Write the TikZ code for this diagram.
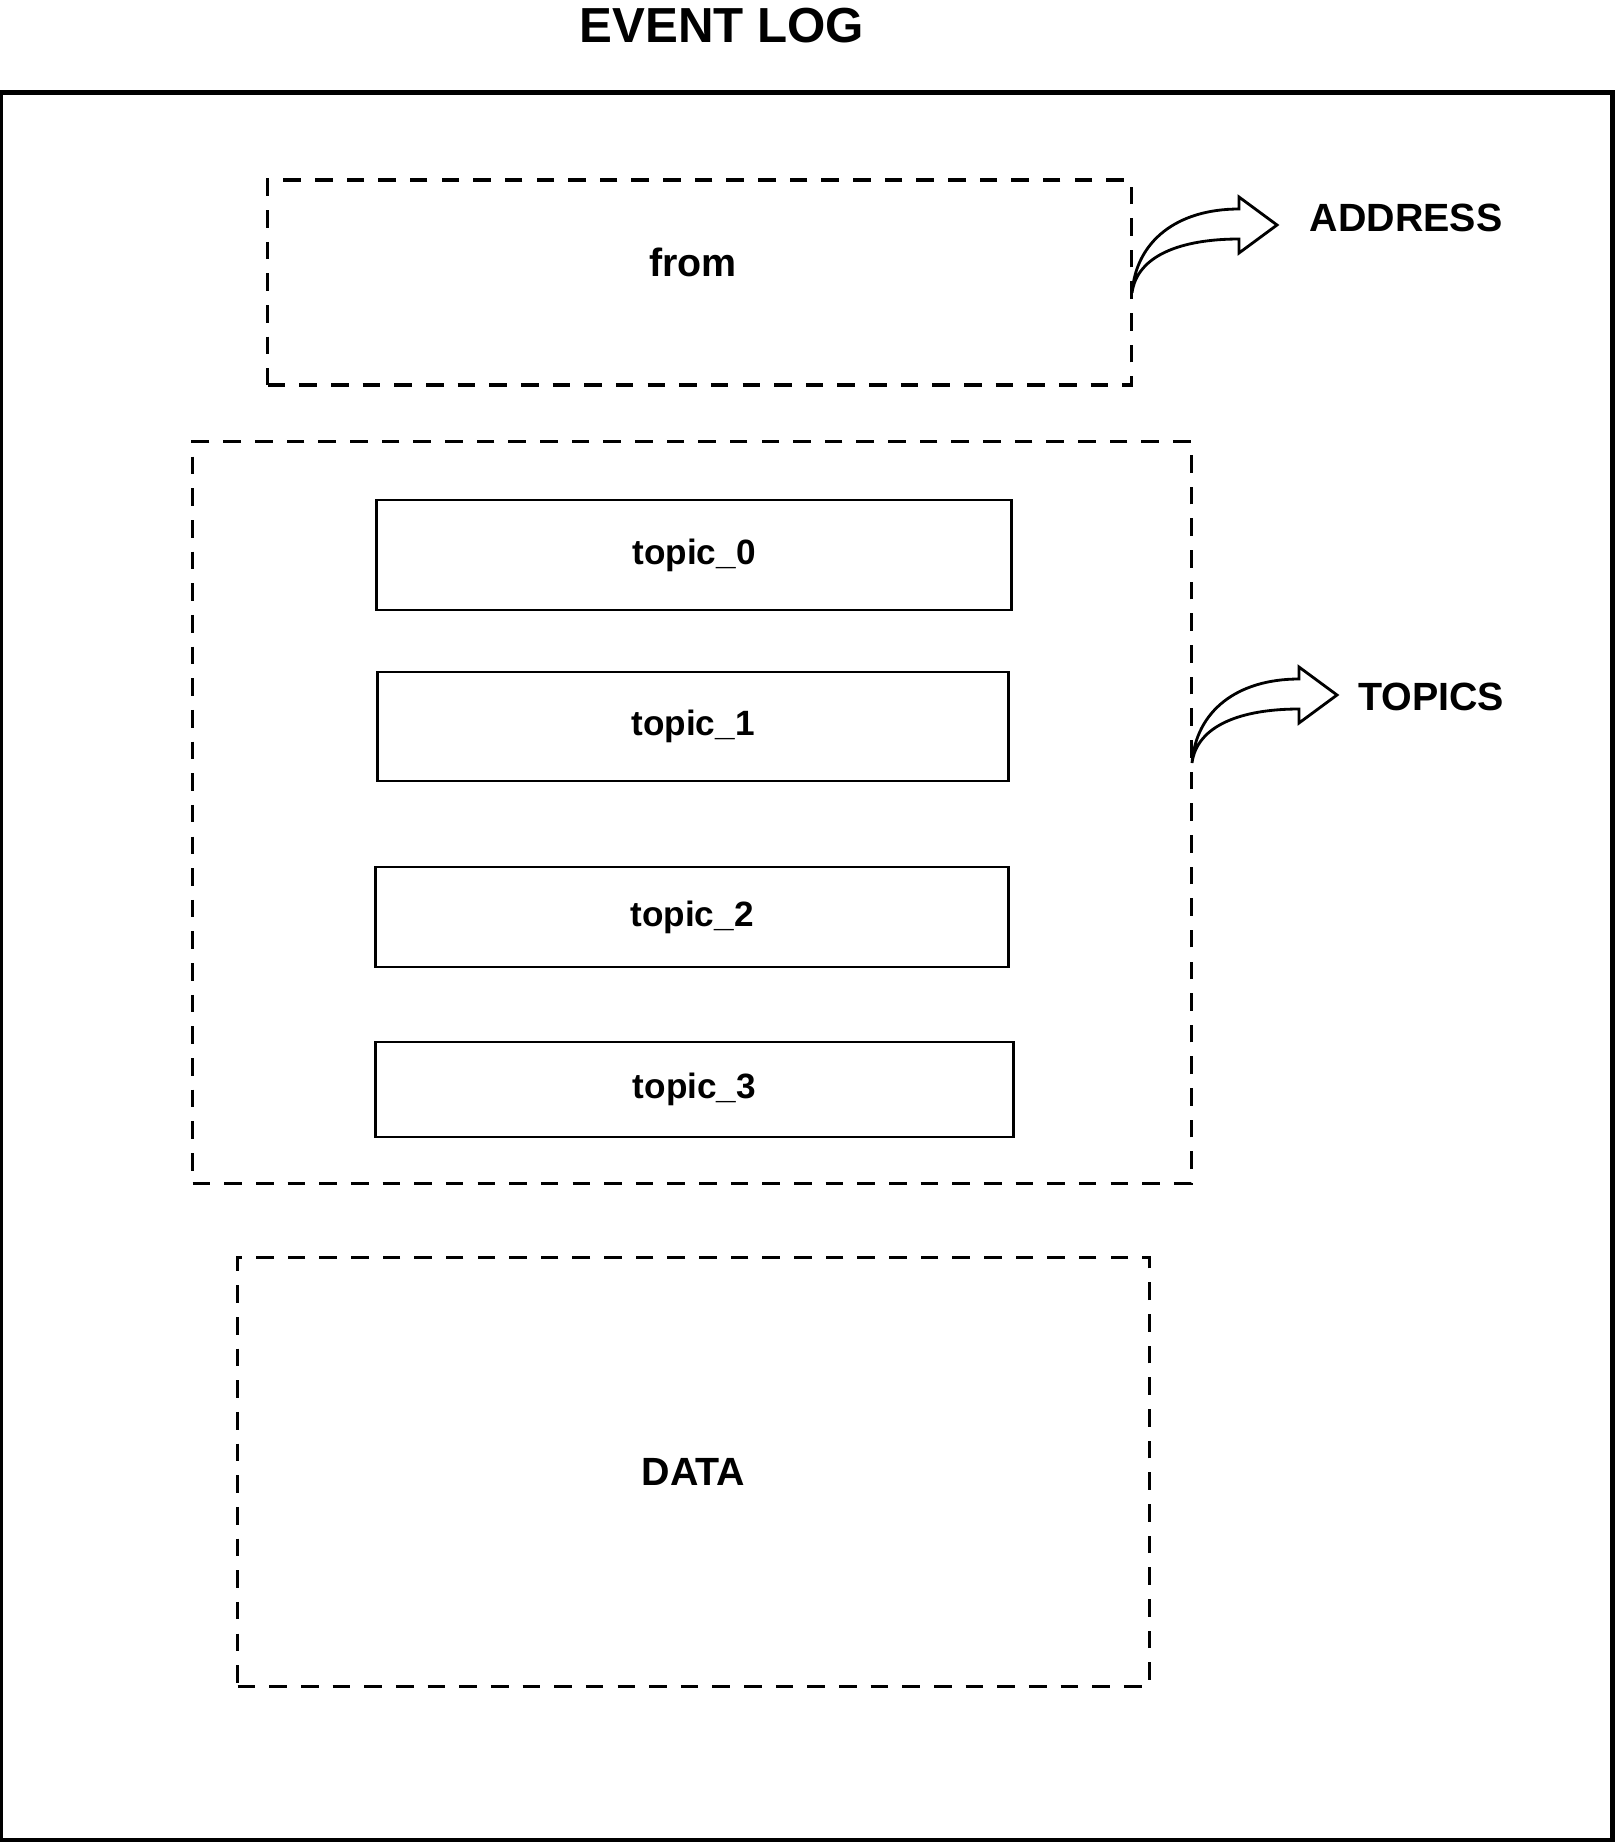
\documentclass[tikz,border=0pt]{standalone}
\usepackage{fontspec}
\setmainfont{Liberation Sans}
\usepackage{tikz}
\usetikzlibrary{calc}
\tikzset{
  frame/.style={draw=black, line width=1.3pt, minimum width=16.11cm, minimum height=17.47cm},
  dbox/.style={draw=black, line width=0.9pt, dash pattern=on 5pt off 4pt},
  tbox/.style={draw=black, line width=0.8pt, minimum width=6.34cm},
  lab/.style={font=\bfseries\fontsize{11.2}{13}\selectfont},
  labs/.style={font=\bfseries\fontsize{10}{12}\selectfont},
  ttl/.style={font=\bfseries\fontsize{14}{17}\selectfont},
  arr/.style={draw=black, fill=white, line width=0.8pt, line join=miter},
  bent arrow/.pic={
    \draw[arr] (0,0) .. controls (4,-52) and (45,-84) .. (107,-84)
      -- (107,-96) -- (145,-68) -- (107,-40) -- (107,-54)
      .. controls (50,-54) and (5,-38) .. cycle;
  },
}
\begin{document}
\begin{tikzpicture}[x=0.01cm, y=-0.01cm]
  \useasboundingbox (0,0) rectangle (1614,1842);
  % title and outer frame
  \node[ttl] (title) at (722,26) {EVENT LOG};
  \node[frame] (log) at (806.5,966.5) {};
  % address part
  \node[dbox, minimum width=8.63cm, minimum height=2.05cm] (fromBox) at (699.5,282.5) {};
  \node[lab] (fromLbl) at (693,262) {from};
  % topics
  \node[dbox, minimum width=9.98cm, minimum height=7.41cm] (topicsBox) at (692,812.5) {};
  \node[tbox, minimum height=1.10cm, labs] (t0) at (694,555) {topic\_0};
  \node[tbox, minimum height=1.09cm, labs, minimum width=6.30cm] (t1) at (693,726.5) {topic\_1};
  \node[tbox, minimum height=1.00cm, labs, minimum width=6.32cm] (t2) at (692,917) {topic\_2};
  \node[tbox, minimum height=0.95cm, labs, minimum width=6.37cm] (t3) at (694.5,1089.5) {topic\_3};
  % data part
  \node[dbox, minimum width=9.11cm, minimum height=4.28cm, lab] (dataBox) at (693.5,1472) {DATA};
  % side labels
  \coordinate (addrBase) at (1132,293);
  \coordinate (topBase) at (1192,763);
  \pic at (addrBase) {bent arrow};
  \pic at (topBase) {bent arrow};
  \node[lab] (addr) at (1406,218) {ADDRESS};
  \node[lab] (topLbl) at (1431,697) {TOPICS};
\end{tikzpicture}
\end{document}
